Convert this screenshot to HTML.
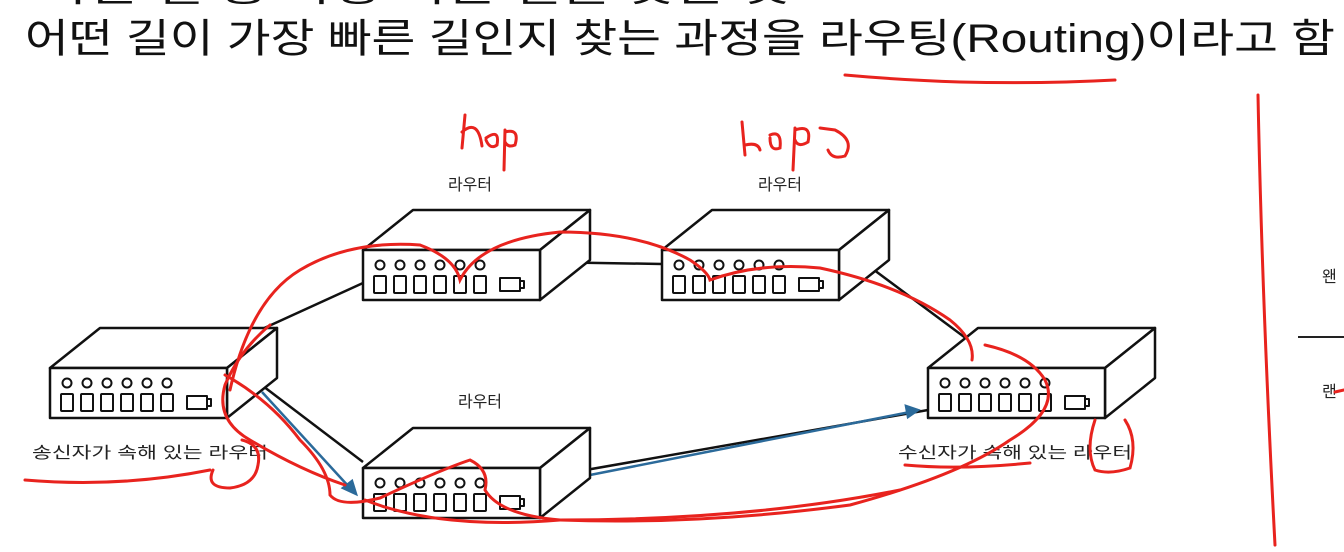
<!DOCTYPE html>
<html><head><meta charset="utf-8"><style>
html,body{margin:0;padding:0;background:#fff;}
svg{display:block;}
text{font-family:"Liberation Sans","Noto Sans CJK KR",sans-serif;}
</style></head><body>
<svg width="1344" height="552" viewBox="0 0 1344 552" xmlns="http://www.w3.org/2000/svg">
<defs>
<g id="rt" fill="#fff" stroke="#111" stroke-width="2.5" stroke-linejoin="round">
  <polygon points="0,0 50,-40 227,-40 177,0"/>
  <polygon points="177,0 227,-40 227,10 177,50"/>
  <rect x="0" y="0" width="177" height="50"/>
  <g stroke-width="2">
  <circle cx="17" cy="15" r="4.5"/><circle cx="37" cy="15" r="4.5"/><circle cx="57" cy="15" r="4.5"/><circle cx="77" cy="15" r="4.5"/><circle cx="97" cy="15" r="4.5"/><circle cx="117" cy="15" r="4.5"/>
  <rect x="11" y="26" width="12" height="17" rx="1"/><rect x="31" y="26" width="12" height="17" rx="1"/><rect x="51" y="26" width="12" height="17" rx="1"/><rect x="71" y="26" width="12" height="17" rx="1"/><rect x="91" y="26" width="12" height="17" rx="1"/><rect x="111" y="26" width="12" height="17" rx="1"/>
  <rect x="137" y="28" width="20" height="13"/><rect x="157" y="31" width="4" height="7"/>
  </g>
</g>
</defs>
<text x="40" y="1" font-size="36" fill="#111" textLength="750" lengthAdjust="spacingAndGlyphs">다른 길 중 가장 빠른 길을 찾는 것</text>
<text x="25" y="52" font-size="40" fill="#111" textLength="1310" lengthAdjust="spacingAndGlyphs">어떤 길이 가장 빠른 길인지 찾는 과정을 라우팅(Routing)이라고 함</text>
<g stroke="#111" stroke-width="2.5" fill="none">
<line x1="227" y1="345" x2="363" y2="283"/>
<line x1="540" y1="262" x2="662" y2="264"/>
<line x1="858" y1="258" x2="975" y2="345"/>
<line x1="255" y1="380" x2="363" y2="462"/>
<line x1="540" y1="478" x2="928" y2="410"/>
</g>
<g stroke="#2b6a9a" stroke-width="2.5" fill="#2b6a9a">
<line x1="262" y1="392" x2="350" y2="488"/><polygon points="356,494 343,488 352,481"/>
<line x1="590" y1="475" x2="910" y2="412"/><polygon points="918,410 906,406 908,417"/>
</g>
<use href="#rt" x="363" y="250"/>
<use href="#rt" x="662" y="250"/>
<use href="#rt" x="50" y="368"/>
<use href="#rt" x="363" y="468"/>
<use href="#rt" x="928" y="368"/>
<g font-size="16" fill="#222">
<text x="448" y="190" textLength="44">라우터</text>
<text x="758" y="190" textLength="44">라우터</text>
<text x="458" y="407" textLength="44">라우터</text>
<text x="32" y="458" textLength="236" lengthAdjust="spacingAndGlyphs">송신자가 속해 있는 라우터</text>
<text x="898" y="458" textLength="234" lengthAdjust="spacingAndGlyphs">수신자가 속해 있는 라우터</text>
<text x="1322" y="282">왠</text>
<text x="1322" y="397">랜</text>
</g>
<line x1="1298" y1="337" x2="1344" y2="337" stroke="#222" stroke-width="2"/>
<g stroke="#e8231e" stroke-width="3" fill="none" stroke-linecap="round">
<path d="M845 75 Q900 80 960 82 Q1040 84 1115 80"/>
<path d="M1258 95 Q1262 300 1275 545"/>
<path d="M1335 392 L1344 390"/>
<path d="M465 115 L462 148 M462 132 Q478 118 482 146 M486 138 Q500 128 497 145 Q490 150 486 140 M505 130 L504 170 M505 132 Q520 128 515 145 Q508 148 505 142"/>
<path d="M742 122 L745 155 M745 145 Q758 142 760 150 M770 135 Q782 130 780 148 Q770 152 770 138 M795 128 L793 170 M795 130 Q812 124 808 142 Q798 148 795 140 M820 128 L835 130 Q855 140 845 156 Q832 160 828 150"/>
<path d="M230 390 Q250 300 300 270 Q350 240 420 245 Q455 258 460 280 Q480 240 560 232 Q640 232 690 260 Q708 272 710 280 Q760 262 820 268 Q900 285 950 320 Q975 340 972 360"/>
<path d="M270 325 Q240 350 225 385 Q215 420 250 440 Q300 470 345 485"/>
<path d="M225 375 Q270 400 300 440 Q330 470 330 495 Q340 508 380 498 Q440 470 470 460 Q490 470 485 490 Q500 515 560 520 Q700 525 850 505 Q960 475 1010 440 Q1060 410 1045 380 Q1030 355 985 345"/>
<path d="M365 500 Q440 530 560 520 Q750 520 900 490"/>
<path d="M25 480 Q120 488 210 470"/>
<path d="M213 470 Q205 488 230 488 Q255 485 258 465 Q262 445 242 440"/>
<path d="M905 465 Q960 470 1030 463"/>
<path d="M1095 420 Q1085 450 1095 470 Q1110 475 1130 468 Q1138 440 1125 420"/>
</g>
</svg>
</body></html>
